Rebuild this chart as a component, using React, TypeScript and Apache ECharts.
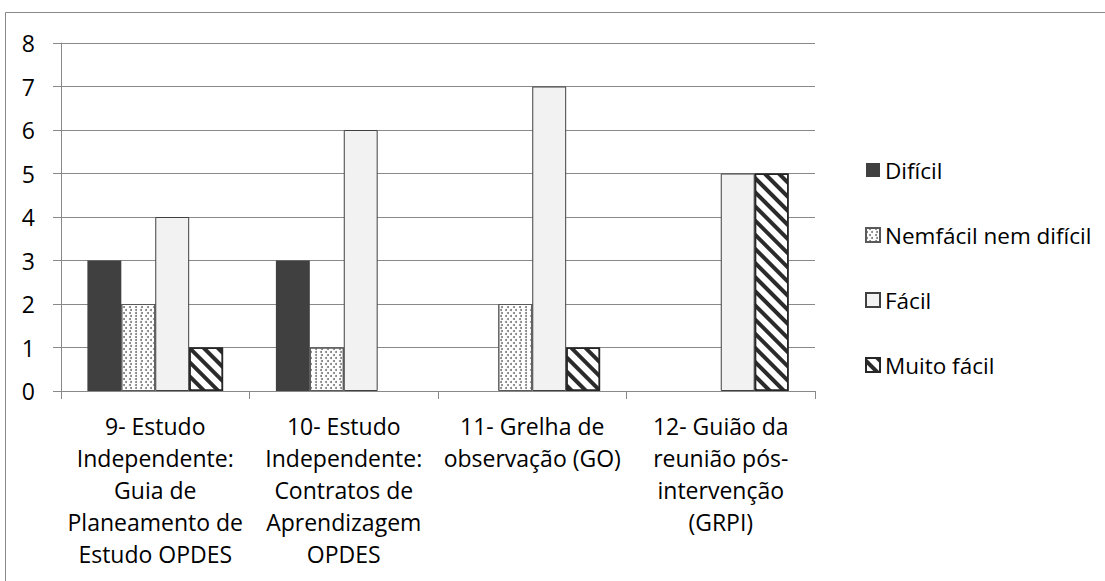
import React, { useEffect, useRef } from "react";
import * as echarts from "echarts";

// Categories (multi-line labels under each group)
const categories = [
  "9- Estudo\nIndependente:\nGuia de\nPlaneamento de\nEstudo OPDES",
  "10- Estudo\nIndependente:\nContratos de\nAprendizagem\nOPDES",
  "11- Grelha de\nobservação (GO)",
  "12- Guião da\nreunião pós-\nintervenção\n(GRPI)",
];

const seriesNames = ["Difícil", "Nemfácil nem difícil", "Fácil", "Muito fácil"];

// Number of answers per category
const dificil = [3, 3, 0, 0];
const nemFacilNemDificil = [2, 1, 2, 0];
const facil = [4, 6, 7, 5];
const muitoFacil = [1, 0, 1, 5];

const yMin = 0;
const yMax = 8;
const yInterval = 1;

const FONT = "'Open Sans', 'Noto Sans', sans-serif";
const GRID_COLOR = "#898989";

// Empty answers leave an empty slot instead of a flat bar
const asBars = (values: number[]) => values.map((v) => (v === 0 ? null : v));

export default function App() {
  const ref = useRef<HTMLDivElement>(null);

  useEffect(() => {
    if (!ref.current) return;
    const chart = echarts.init(ref.current, undefined, { renderer: "svg" });

    chart.setOption({
      animation: false,
      backgroundColor: "#ffffff",
      textStyle: { fontFamily: FONT },
      grid: { left: 61, right: 290, top: 43, bottom: 190 },
      legend: {
        orient: "vertical",
        left: 860,
        top: 150,
        itemWidth: 14,
        itemHeight: 14,
        itemGap: 35,
        icon: "rect",
        textStyle: {
          fontFamily: FONT,
          fontSize: 22.5,
          color: "#000",
          lineHeight: 30,
        },
        data: seriesNames,
      },
      xAxis: {
        type: "category",
        data: categories,
        boundaryGap: true,
        axisLine: { show: true, lineStyle: { color: GRID_COLOR, width: 1 } },
        axisTick: { show: true, length: 8, lineStyle: { color: GRID_COLOR } },
        axisLabel: {
          interval: 0,
          margin: 19,
          fontFamily: FONT,
          fontSize: 23,
          lineHeight: 32,
          color: "#000",
          align: "center",
        },
      },
      yAxis: {
        type: "value",
        min: yMin,
        max: yMax,
        interval: yInterval,
        axisLine: { show: true, lineStyle: { color: GRID_COLOR, width: 1 } },
        axisTick: { show: true, length: 8, lineStyle: { color: GRID_COLOR } },
        splitLine: { show: true, lineStyle: { color: GRID_COLOR, width: 1 } },
        axisLabel: {
          margin: 26,
          fontFamily: FONT,
          fontSize: 23,
          color: "#000",
        },
      },
      series: [
        {
          name: seriesNames[0],
          type: "bar",
          data: asBars(dificil),
          barGap: "0%",
          barCategoryGap: "28%",
          itemStyle: { color: "#404040" },
        },
        {
          name: seriesNames[1],
          type: "bar",
          data: asBars(nemFacilNemDificil),
          barGap: "0%",
          barCategoryGap: "28%",
          itemStyle: {
            color: "#ffffff",
            borderColor: "#595959",
            borderWidth: 1,
            decal: {
              symbol: "circle",
              symbolSize: 1,
              color: "#7a7a7a",
              dashArrayX: [
                [1.6, 2.8],
                [0, 2.2, 1.6, 0.6],
              ],
              dashArrayY: [1.6, 0.6],
            },
          },
        },
        {
          name: seriesNames[2],
          type: "bar",
          data: asBars(facil),
          barGap: "0%",
          barCategoryGap: "28%",
          itemStyle: { color: "#f2f2f2", borderColor: "#404040", borderWidth: 1 },
        },
        {
          name: seriesNames[3],
          type: "bar",
          data: asBars(muitoFacil),
          barGap: "0%",
          barCategoryGap: "28%",
          itemStyle: {
            color: "#ffffff",
            borderColor: "#262626",
            borderWidth: 1.5,
            decal: {
              symbol: "rect",
              symbolSize: 1,
              color: "#2b2b2b",
              dashArrayX: [1, 0],
              dashArrayY: [4, 6],
              rotation: Math.PI / 4,
            },
          },
        },
      ],
      graphic: [
        {
          type: "rect",
          silent: true,
          z: -1,
          shape: { x: 5.5, y: 12.5, width: 1200, height: 700 },
          style: { fill: "none", stroke: "#898989", lineWidth: 1 },
        },
      ],
    });

    return () => chart.dispose();
  }, []);

  return (
    <div
      ref={ref}
      style={{ position: "absolute", left: 0, top: 0, width: 1105, height: 581 }}
    />
  );
}
